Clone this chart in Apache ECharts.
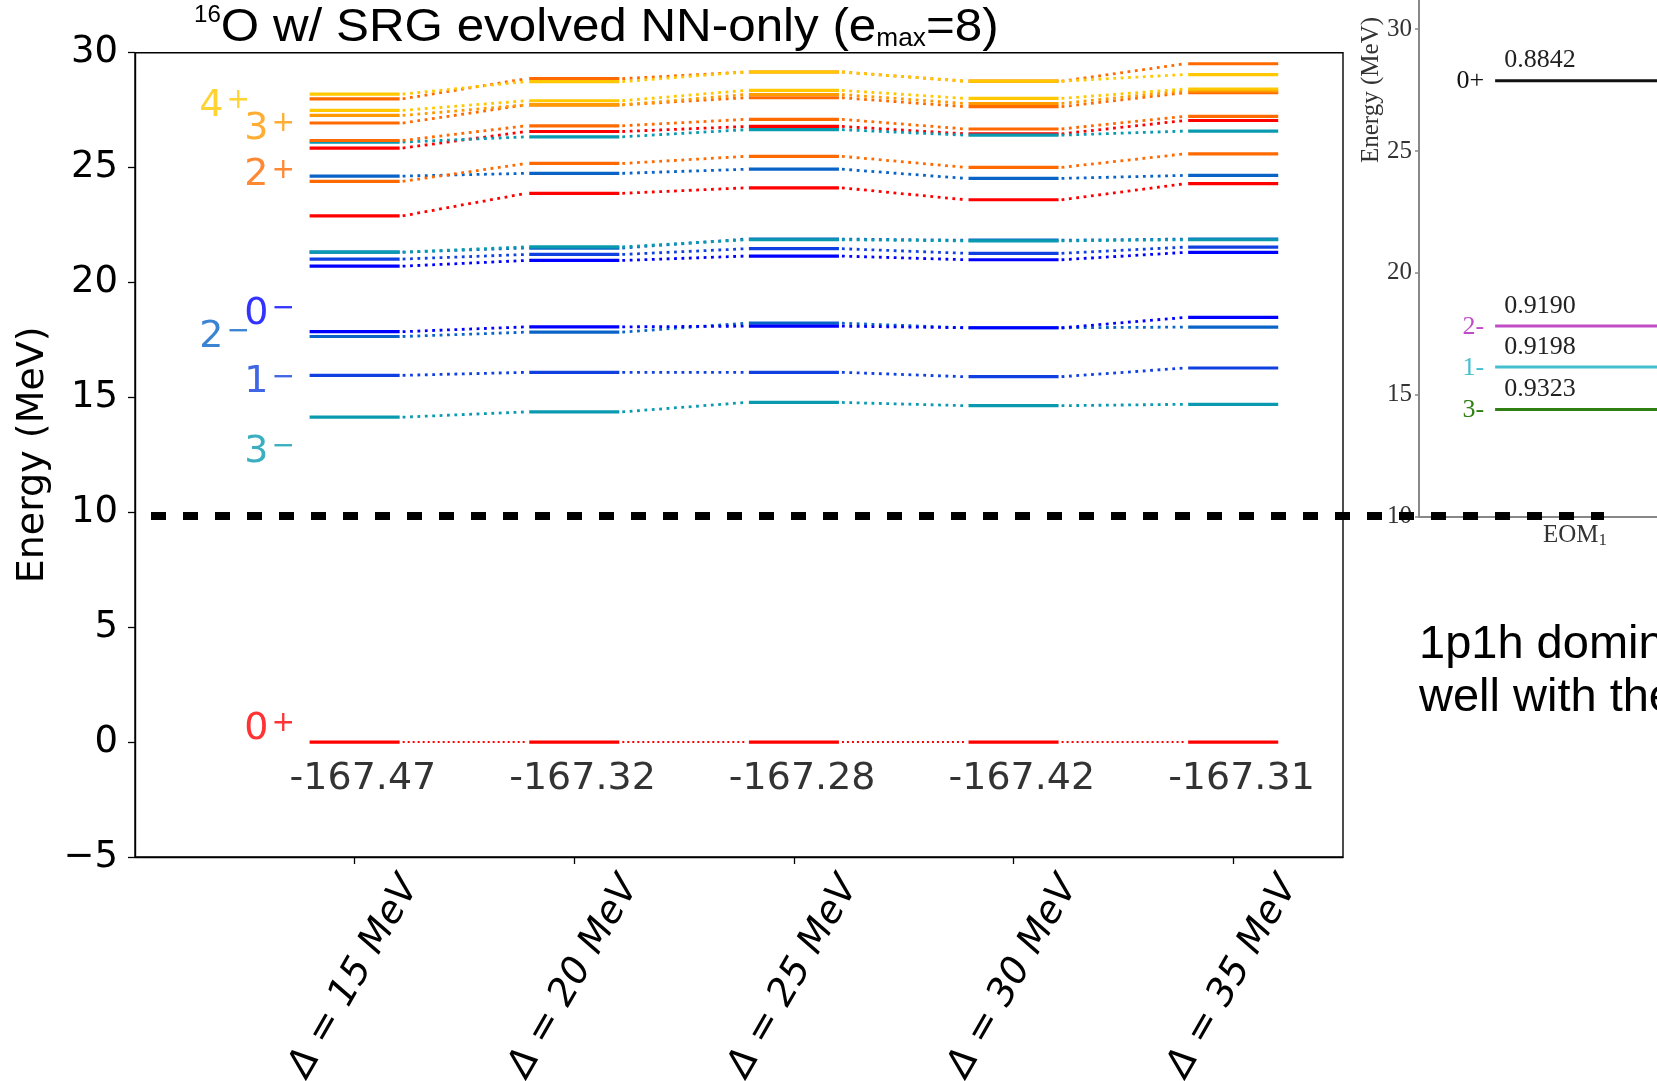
<!DOCTYPE html>
<html>
<head>
<meta charset="utf-8">
<script src="https://cdn.jsdelivr.net/npm/echarts@6/dist/echarts.min.js"></script>
<style>
  html, body { margin: 0; padding: 0; background: #fff; }
  #chart { width: 1657px; height: 1081px; }
</style>
</head>
<body>
<div id="chart"></div>
<script>
// Oscillator spacings (columns) and ground-state energies (MeV)
const deltaLabels = ['Δ = 15 MeV', 'Δ = 20 MeV', 'Δ = 25 MeV', 'Δ = 30 MeV', 'Δ = 35 MeV'];
const groundEnergies = ['-167.47', '-167.32', '-167.28', '-167.42', '-167.31'];

// Excitation energies (MeV) per column, one array per state
const e0pGs = [0, 0, 0, 0, 0];
const e3mA = [14.14, 14.37, 14.78, 14.64, 14.70];
const e1mA = [15.96, 16.09, 16.09, 15.90, 16.28];
const e2mA = [17.65, 17.84, 18.23, 18.03, 18.06];
const e0mA = [17.86, 18.07, 18.10, 18.03, 18.48];
const e0mB = [20.71, 20.96, 21.15, 20.99, 21.31];
const e1mB = [21.02, 21.22, 21.47, 21.27, 21.54];
const e2mB = [21.32, 21.50, 21.89, 21.84, 21.89];
const e3mB = [21.32, 21.55, 21.86, 21.81, 21.86];
const e0pA = [22.90, 23.88, 24.12, 23.60, 24.30];
const e2mC = [24.63, 24.75, 24.93, 24.53, 24.66];
const e2pA = [24.40, 25.18, 25.49, 25.01, 25.60];
const e0pB = [25.85, 26.57, 26.79, 26.47, 27.05];
const e3mC = [26.11, 26.34, 26.65, 26.41, 26.59];
const e2pB = [26.18, 26.82, 27.10, 26.68, 27.23];
const e2pC = [26.94, 27.73, 28.04, 27.65, 28.26];
const e3pA = [27.27, 27.73, 28.18, 27.79, 28.34];
const e4pB = [27.49, 27.91, 28.36, 28.01, 28.42];
const e2pD = [27.99, 28.87, 29.16, 28.76, 29.52];
const e4pA = [28.20, 28.74, 29.16, 28.76, 29.05];

// Spin-parity labels: text, superscript, anchor (x, y in data units)
const stateLabelText = ['4', '3', '2', '0', '2', '1', '3', '0'];
const stateLabelSup = ['+', '+', '+', '−', '−', '−', '−', '+'];
const stateLabelX = [-0.705, -0.5, -0.5, -0.5, -0.705, -0.5, -0.5, -0.5];
const stateLabelY = [27.66, 26.66, 24.64, 18.62, 17.60, 15.63, 12.60, 0.56];

// EOM comparison panel
const insetStates = ['0+', '2-', '1-', '3-'];
const insetEnergies = [27.89, 17.82, 16.13, 14.39];
const insetOverlaps = ['0.8842', '0.9190', '0.9198', '0.9323'];

// Colours by spin-parity
const C = {
  p4: '#FFC800', p3: '#FF9A00', p2: '#FF6A00', p0: '#FF0000',
  m0: '#0000FF', m2: '#0A64C8', m1: '#1040E0', m3: '#0A9AB0'
};
const stateLabelColor = [C.p4, C.p3, C.p2, C.m0, C.m2, C.m1, C.m3, C.p0];
const insetColors = ['#111111', '#C04CC8', '#44BFD0', '#2F7F12'];

// Drawing order (later ones on top)
const levelSets = [
  [e0pGs, C.p0, 'gs'],
  [e3mA, C.m3], [e1mA, C.m1], [e2mA, C.m2], [e0mA, C.m0],
  [e0mB, C.m0], [e1mB, C.m1], [e2mB, C.m2], [e3mB, C.m3],
  [e0pA, C.p0], [e2mC, C.m2], [e2pA, C.p2],
  [e0pB, C.p0], [e3mC, C.m3], [e2pB, C.p2],
  [e2pC, C.p2], [e3pA, C.p3], [e4pB, C.p4],
  [e2pD, C.p2], [e4pA, C.p4]
];

const HALF = 0.205;
const FONT = 'DejaVu Sans';
const SERIF = 'Liberation Serif';

function levelSeries(vals, color, kind) {
  const thin = kind === 'gs';
  return {
    type: 'custom',
    coordinateSystem: 'cartesian2d',
    xAxisIndex: 0, yAxisIndex: 0,
    silent: true,
    data: vals.map((v, i) => [i, v]),
    renderItem(params, api) {
      const i = api.value(0), v = api.value(1);
      const a = api.coord([i - HALF, v]);
      const b = api.coord([i + HALF, v]);
      const children = [{
        type: 'line',
        shape: { x1: a[0], y1: a[1], x2: b[0], y2: b[1] },
        style: { stroke: color, lineWidth: 3.2, lineCap: 'butt' }
      }];
      if (i + 1 < vals.length) {
        const c = api.coord([i + 1 - HALF, vals[i + 1]]);
        children.push({
          type: 'line',
          shape: { x1: b[0] + 3, y1: b[1], x2: c[0] - 3, y2: c[1] },
          style: thin
            ? { stroke: color, lineWidth: 2, lineDash: [2, 3], lineCap: 'butt' }
            : { stroke: color, lineWidth: 2.8, lineDash: [2.8, 4.6], lineCap: 'butt' }
        });
      }
      return { type: 'group', children };
    }
  };
}

const series = levelSets.map(s => levelSeries(s[0], s[1], s[2]));

// spin-parity labels
series.push({
  type: 'scatter', xAxisIndex: 0, yAxisIndex: 0, silent: true,
  symbolSize: 1, itemStyle: { color: 'rgba(0,0,0,0)' }, z: 5,
  data: stateLabelText.map((t, k) => ({
    value: [stateLabelX[k], stateLabelY[k]],
    label: {
      formatter: '{m|' + t + '}{' + (stateLabelSup[k] === '+' ? 'p' : 'n') + '|' + stateLabelSup[k] + '}',
      color: stateLabelColor[k]
    }
  })),
  label: {
    show: true, position: [0, 0], align: 'left', verticalAlign: 'middle',
    fontFamily: FONT,
    rich: {
      m: { fontSize: 38, lineHeight: 38, fontFamily: FONT },
      p: { fontSize: 28, lineHeight: 23, verticalAlign: 'top', fontFamily: FONT, padding: [0, 0, 0, 3] },
      n: { fontSize: 28, lineHeight: 18, verticalAlign: 'top', fontFamily: FONT, padding: [0, 0, 0, 3] }
    }
  }
});

// ground-state energies under each column
series.push({
  type: 'scatter', xAxisIndex: 0, yAxisIndex: 0, silent: true,
  symbolSize: 1, itemStyle: { color: 'rgba(0,0,0,0)' }, z: 5,
  data: groundEnergies.map((t, i) => ({
    value: [i + 0.04, -1.62],
    label: { formatter: t, color: '#000' }
  })),
  label: {
    show: true, position: [0, 0], align: 'center', verticalAlign: 'middle',
    fontFamily: FONT, fontSize: 38, color: '#000', textBorderWidth: 0
  }
});

// EOM panel levels
series.push({
  type: 'custom', coordinateSystem: 'cartesian2d', xAxisIndex: 1, yAxisIndex: 1, silent: true,
  data: insetEnergies.map((v, k) => [k, v]),
  renderItem(params, api) {
    const k = api.value(0), v = api.value(1);
    const a = api.coord([-0.256, v]);
    const b = api.coord([0.5, v]);
    return {
      type: 'group',
      children: [
        { type: 'line', shape: { x1: a[0], y1: a[1], x2: b[0], y2: b[1] },
          style: { stroke: insetColors[k], lineWidth: 3 } },
        { type: 'text', x: a[0] + 9, y: a[1] - 7,
          style: { text: insetOverlaps[k], fill: '#222', font: '26px "Liberation Serif"',
                   align: 'left', verticalAlign: 'bottom' } },
        { type: 'text', x: a[0] - 11, y: a[1] + 1,
          style: { text: insetStates[k], fill: insetColors[k], font: '26px "Liberation Serif"',
                   align: 'right', verticalAlign: 'middle' } }
      ]
    };
  }
});

const chart = echarts.init(document.getElementById('chart'), null, { renderer: 'canvas' });

chart.setOption({
  animation: false,
  backgroundColor: '#fff',
  grid: [
    { left: 135, top: 52.7, right: 314, bottom: 224, show: true,
      borderColor: '#000', borderWidth: 1.4, backgroundColor: 'transparent', outerBoundsMode: 'none' },
    { left: 1419, top: 0, right: -74, bottom: 564.6, show: false, outerBoundsMode: 'none' }
  ],
  xAxis: [
    {
      type: 'value', gridIndex: 0, min: -1, max: 4.5,
      splitLine: { show: false },
      axisLine: { show: true, onZero: false, lineStyle: { color: '#000', width: 1.4 } },
      axisTick: { show: true, customValues: [0, 1, 2, 3, 4], length: 7, inside: false,
                  lineStyle: { color: '#000', width: 1.3 } },
      axisLabel: {
        show: true, customValues: [0, 1, 2, 3, 4],
        formatter: v => deltaLabels[Math.round(v)],
        rotate: 60, align: 'center', verticalAlign: 'middle', margin: 120,
        fontFamily: FONT, fontStyle: 'italic', fontSize: 38, color: '#000'
      }
    },
    {
      type: 'value', gridIndex: 1, min: -0.5, max: 0.5,
      splitLine: { show: false },
      axisLine: { show: true, onZero: false, lineStyle: { color: '#888', width: 2 } },
      axisTick: { show: false },
      axisLabel: {
        show: true, customValues: [0],
        formatter: () => '{m|EOM}{s|1}',
        margin: 6,
        rich: {
          m: { fontFamily: SERIF, fontSize: 25, color: '#333', lineHeight: 27 },
          s: { fontFamily: SERIF, fontSize: 17, color: '#333', verticalAlign: 'bottom', lineHeight: 20 }
        }
      }
    }
  ],
  yAxis: [
    {
      type: 'value', gridIndex: 0, min: -5, max: 30, interval: 5,
      splitLine: { show: false },
      axisLine: { show: true, onZero: false, lineStyle: { color: '#000', width: 1.4 } },
      axisTick: { show: true, length: 7, inside: false, lineStyle: { color: '#000', width: 1.3 } },
      axisLabel: {
        margin: 17, fontFamily: FONT, fontSize: 37, color: '#000',
        formatter: v => (v < 0 ? '−' + Math.abs(v) : String(v))
      },
      name: 'Energy (MeV)', nameLocation: 'middle', nameGap: 82, nameRotate: 90,
      nameTextStyle: { fontFamily: FONT, fontSize: 38, color: '#000' }
    },
    {
      type: 'value', gridIndex: 1, min: 10, max: 31.2, interval: 5,
      splitLine: { show: false },
      axisLine: { show: true, onZero: false, lineStyle: { color: '#888', width: 2 } },
      axisTick: { show: true, length: 4, inside: false, lineStyle: { color: '#888', width: 1.5 } },
      axisLabel: {
        margin: 7, fontFamily: SERIF, fontSize: 25, color: '#333',
        showMaxLabel: false
      }
    }
  ],
  series,
  graphic: [
    {
      type: 'text', left: 194, top: 4, z: 20, scaleX: 1.05,
      style: {
        text: '{s|16}{m|O w/ SRG evolved NN-only (e}{b|max}{m|=8)}',
        rich: {
          m: { fontFamily: 'Liberation Sans', fontSize: 47, lineHeight: 48, fill: '#000' },
          s: { fontFamily: 'Liberation Sans', fontSize: 23, lineHeight: 30, verticalAlign: 'top', fill: '#000' },
          b: { fontFamily: 'Liberation Sans', fontSize: 25, lineHeight: 31, verticalAlign: 'bottom', fill: '#000' }
        }
      }
    },
    {
      type: 'text', z: 20, x: 1371, y: 90, rotation: Math.PI / 2,
      style: { text: 'Energy (MeV)', font: '25px "Liberation Serif"', fill: '#333',
               align: 'center', verticalAlign: 'middle' }
    },
    {
      type: 'line', z: 30, silent: true,
      shape: { x1: 151, y1: 516, x2: 1604, y2: 516 },
      style: { stroke: '#000', lineWidth: 8, lineDash: [15, 17] }
    },
    {
      type: 'text', z: 20, x: 1419, y: 622,
      style: { text: '1p1h dominated', font: '47px "Liberation Sans"', fill: '#000', verticalAlign: 'top' }
    },
    {
      type: 'text', z: 20, x: 1419, y: 675,
      style: { text: 'well with the', font: '47px "Liberation Sans"', fill: '#000', verticalAlign: 'top' }
    }
  ]
});
</script>
</body>
</html>
